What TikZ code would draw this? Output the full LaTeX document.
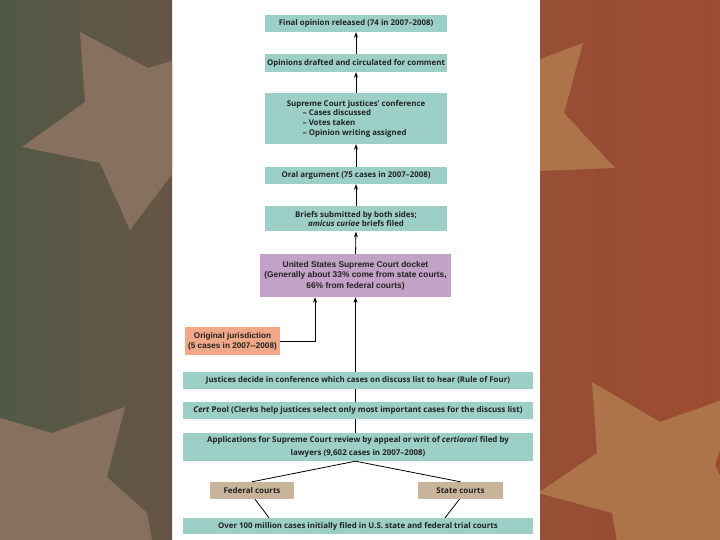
\documentclass[tikz,border=0pt]{standalone}
\usepackage{fontspec}
\setmainfont{Open Sans}
\newfontfamily\arialf{Liberation Sans}
\usetikzlibrary{arrows.meta,calc}
\definecolor{teal1}{HTML}{9CCFC6}
\definecolor{purp1}{HTML}{C2A2C6}
\definecolor{salm1}{HTML}{F0A888}
\definecolor{tan1}{HTML}{C8B49A}
\definecolor{lgA}{HTML}{515847}
\definecolor{lgB}{HTML}{675645}
\definecolor{lstar}{HTML}{88705E}
\definecolor{rgA}{HTML}{964E35}
\definecolor{rgB}{HTML}{9C4C30}
\definecolor{rstar}{HTML}{AD7349}
\definecolor{txt}{HTML}{222222}
\begin{document}
\begin{tikzpicture}[x=1bp,y=-1bp,
  box/.style={fill=teal1,draw=none,inner sep=0pt,align=center,text=txt,font=\fontsize{7.9}{10}\selectfont\bfseries},
  afont/.style={font=\arialf\fontsize{8.4}{10.5}\selectfont\bfseries},
  arr/.style={-{Stealth[length=5.5bp,width=4bp]},line width=0.8bp,black},
  ln/.style={line width=0.8bp,black}]
\useasboundingbox (0,0) rectangle (720,540);
% background panels
\shade[left color=lgA,right color=lgB] (0,0) rectangle (172,540);
\begin{scope}
\clip (0,0) rectangle (172,540);
\fill[lstar] (80,32) -- (148,68) -- (175,60) -- (175,170) -- (130,230) -- (100,163) -- (22,147) -- (85,102) -- cycle;
\fill[lstar] (0,418) -- (52,433) -- (125,407) -- (107,477) -- (147,513) -- (152,540) -- (0,540) -- cycle;
\end{scope}
\shade[left color=rgA,right color=rgB] (540,0) rectangle (720,540);
\begin{scope}
\clip (540,0) rectangle (720,540);
\fill[rstar] (538,60) -- (583,43) -- (564,113) -- (615,168) -- (538,171) -- cycle;
\fill[rstar] (592,382) -- (660,422) -- (722,400) -- (722,443) -- (715,465) -- (722,480) -- (722,542) -- (617,542) -- (612,513) -- (538,493) -- (597,453) -- cycle;
\end{scope}
% boxes
\node[box,minimum width=182bp,minimum height=17bp] (final) at (356,23.5) {Final opinion released (74 in 2007--2008)};
\node[box,minimum width=182bp,minimum height=18bp] (drafted) at (356,63) {Opinions drafted and circulated for comment};
\node[box,minimum width=182bp,minimum height=51bp,font=\fontsize{7.9}{11.3}\selectfont\bfseries] (conf) at (356,118.5) {%
  \begin{tabular}{@{}l@{}}\multicolumn{1}{c}{Supreme Court justices’ conference}\\[-1.6bp]
  \hspace{22bp}-- Cases discussed\\[-1.6bp] \hspace{22bp}-- Votes taken\\[-1.6bp] \hspace{22bp}-- Opinion writing assigned\end{tabular}};
\node[box,minimum width=182bp,minimum height=17bp] (oral) at (356,175.5) {Oral argument (75 cases in 2007--2008)};
\node[box,minimum width=182bp,minimum height=25bp,font=\fontsize{7.9}{9.5}\selectfont\bfseries] (briefs) at (356,219) {Briefs submitted by both sides;\\\textit{amicus curiae} briefs filed};
\node[box,fill=purp1,minimum width=191bp,minimum height=43bp,afont] (docket) at (355.5,275.5) {United States Supreme Court docket\\(Generally about 33\% come from state courts,\\66\% from federal courts)};
\node[box,fill=salm1,minimum width=95bp,minimum height=28bp,font=\arialf\fontsize{8.2}{10}\selectfont\bfseries] (orig) at (232.5,341) {Original jurisdiction\\(5 cases in 2007--2008)};
\node[box,minimum width=350bp,minimum height=17bp] (justices) at (358,380.5) {Justices decide in conference which cases on discuss list to hear (Rule of Four)};
\node[box,minimum width=350bp,minimum height=17bp,font=\fontsize{8.05}{10}\selectfont\bfseries] (cert) at (358,410.5) {\textit{Cert} Pool (Clerks help justices select only most important cases for the discuss list)};
\node[box,minimum width=350bp,minimum height=28bp,font=\fontsize{8}{12.3}\selectfont\bfseries] (apps) at (358,447) {Applications for Supreme Court review by appeal or writ of \textit{certiorari} filed by\\lawyers (9,602 cases in 2007--2008)};
\node[box,fill=tan1,minimum width=84bp,minimum height=17bp,font=\fontsize{8}{10}\selectfont\bfseries] (federal) at (252,490.5) {Federal courts};
\node[box,fill=tan1,minimum width=85bp,minimum height=17bp,font=\fontsize{8}{10}\selectfont\bfseries] (state) at (460.5,490.5) {State courts};
\node[box,minimum width=350bp,minimum height=16bp] (trial) at (358,526) {Over 100 million cases initially filed in U.S. state and federal trial courts};
% connectors
\draw[arr] (drafted.north) -- (final.south);
\draw[arr] (conf.north) -- (drafted.south);
\draw[arr] (oral.north) -- (conf.south);
\draw[arr] (briefs.north) -- (oral.south);
\draw[arr] (docket.north) -- (briefs.south);
\draw[arr] (docket.south |- justices.north) -- (docket.south);
\draw[arr] (orig.east) -| ($(docket.south)+(-40.5,0)$);
\draw[ln] (docket.south |- cert.north) -- (docket.south |- justices.south);
\draw[ln] (docket.south |- apps.north) -- (docket.south |- cert.south);
\draw[ln] (docket.south |- apps.south) -- (federal.north);
\draw[ln] (docket.south |- apps.south) -- (state.north);
\draw[ln] ($(federal.south)+(3,0)$) -- ($(trial.north)+(-89,0)$);
\draw[ln] ($(state.south)+(-1,0)$) -- ($(trial.north)+(87,0)$);
\end{tikzpicture}
\end{document}
